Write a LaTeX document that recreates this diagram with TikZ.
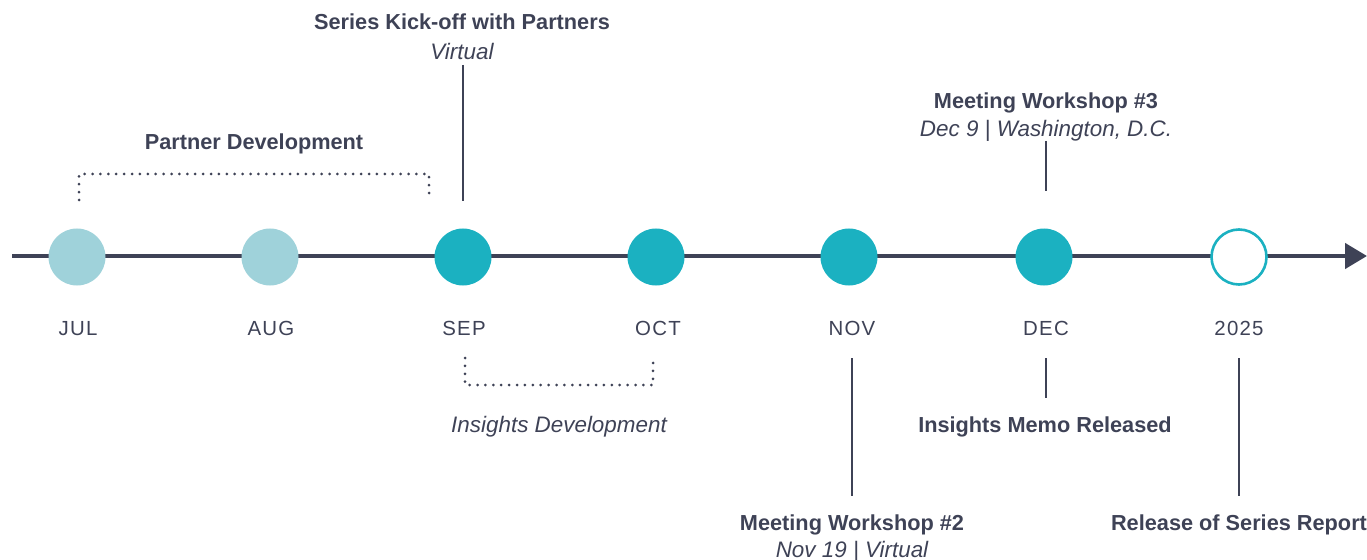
\documentclass[tikz,border=0pt]{standalone}
\usepackage{fontspec}
\setmainfont{Liberation Sans}
\newfontfamily\monthfont{Liberation Sans}[LetterSpace=6]
\usetikzlibrary{arrows.meta}
\definecolor{ink}{HTML}{3E4256}
\definecolor{teal}{HTML}{1BB1C1}
\definecolor{pale}{HTML}{9FD2DA}
\tikzset{
  dot/.style={circle, minimum size=57bp, inner sep=0pt},
  done/.style={dot, fill=pale},
  active/.style={dot, fill=teal},
  future/.style={dot, draw=teal, line width=2.6bp, fill=white, minimum size=55bp},
  month/.style={text=ink, font=\monthfont\fontsize{20.5}{24}\selectfont, anchor=base},
  title/.style={text=ink, font=\bfseries\fontsize{21.8}{26}\selectfont, anchor=base},
  sub/.style={text=ink, font=\itshape\fontsize{22.5}{26}\selectfont, anchor=base},
  stem/.style={draw=ink, line width=2bp},
  bracket/.style={draw=ink, line width=3bp, line cap=round, dash pattern=on 0pt off 7.9bp},
}
\begin{document}
\begin{tikzpicture}[x=1bp,y=-1bp]
\useasboundingbox (0,0) rectangle (1367,560);
% timeline
\coordinate (ls) at (12,256);
\coordinate (le) at (1367,256);
\draw[ink, line width=4.5bp, -{Triangle[length=22bp,width=25bp]}] (ls) -- (le);
% circles
\node[done] (jul) at (77,257) {};
\node[done] (aug) at (270,257) {};
\node[active] (sep) at (463,257) {};
\node[active] (oct) at (656,257) {};
\node[active] (nov) at (849,257) {};
\node[active] (dec) at (1044,257) {};
\node[future] (y25) at (1239,257) {};
% month labels
\node[month] (ljul) at (78,335) {JUL};
\node[month] (laug) at (271,335) {AUG};
\node[month] (lsep) at (464,335) {SEP};
\node[month] (loct) at (658,335) {OCT};
\node[month] (lnov) at (852,335) {NOV};
\node[month] (ldec) at (1046,335) {DEC};
\node[month] (l25) at (1239,335) {2025};
% Partner development
\node[title] (pd) at (254,150) {Partner Development};
\coordinate (pa) at (79,200);
\coordinate (pb) at (79,174);
\coordinate (pc) at (429,174);
\coordinate (pdd) at (429,200);
\draw[bracket] (pa) -- (pb) -- (pc) -- (pdd);
% Series kick-off
\node[title] (sk) at (462,30) {Series Kick-off with Partners};
\node[sub] (skv) at (462,60) {Virtual};
\coordinate (ska) at (463,65);
\coordinate (skb) at (463,201);
\draw[stem] (ska) -- (skb);
% Insights development
\coordinate (ia) at (465,358);
\coordinate (ib) at (465,385);
\coordinate (ic) at (653,385);
\coordinate (id) at (653,358);
\draw[bracket] (ia) -- (ib) -- (ic) -- (id);
\node[sub] (idl) at (559,432) {Insights Development};
% Workshop 2
\coordinate (na) at (852,358);
\coordinate (nb) at (852,496);
\draw[stem] (na) -- (nb);
\node[title] (w2) at (852,530) {Meeting Workshop \#2};
\node[sub] (w2s) at (852,557) {Nov 19 | Virtual};
% Workshop 3
\node[title] (w3) at (1046,109) {Meeting Workshop \#3};
\node[sub] (w3s) at (1046,137) {Dec 9 | Washington, D.C.};
\coordinate (da) at (1046,141);
\coordinate (db) at (1046,191);
\draw[stem] (da) -- (db);
% Insights memo
\coordinate (ma) at (1046,358);
\coordinate (mb) at (1046,398);
\draw[stem] (ma) -- (mb);
\node[title] (im) at (1045,432) {Insights Memo Released};
% Release
\coordinate (ra) at (1239,358);
\coordinate (rb) at (1239,496);
\draw[stem] (ra) -- (rb);
\node[title] (rr) at (1239,530) {Release of Series Report};
\end{tikzpicture}
\end{document}
